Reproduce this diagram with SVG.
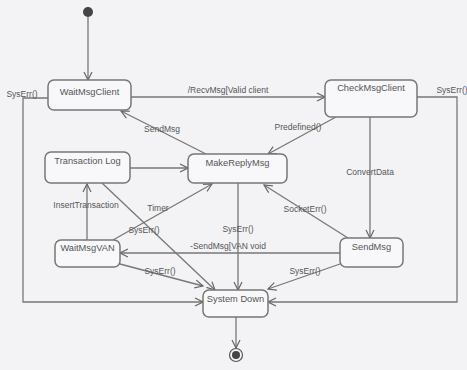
<svg xmlns="http://www.w3.org/2000/svg" width="467" height="370" viewBox="0 0 467 370">
<defs>
<marker id="arr" markerWidth="10" markerHeight="10" refX="9" refY="5" orient="auto" markerUnits="userSpaceOnUse">
<path d="M1,1 L9,5 L1,9" fill="none" stroke="#666" stroke-width="1.2"/>
</marker>
<style>
.st{fill:#f8f8fa;stroke:#777;stroke-width:1.5}
.t{font-family:"Liberation Sans",Arial,sans-serif;font-size:9.3px;fill:#555;text-anchor:middle}
.l{font-family:"Liberation Sans",Arial,sans-serif;font-size:8.5px;fill:#555;text-anchor:middle}
.c{fill:none;stroke:#777;stroke-width:1.3}
</style>
</defs>
<rect width="467" height="370" fill="#f3f3f5"/>
<g id="connectors">
<path class="c" d="M88,17 L88,80" marker-end="url(#arr)"/>
<path class="c" d="M131,97 L325,97" marker-end="url(#arr)"/>
<text class="l" x="228" y="93">/RecvMsg[Valid client</text>
<path class="c" d="M48,98 L23,98 L23,302 L203,302" marker-end="url(#arr)"/>
<text class="l" x="22" y="97">SysErr()</text>
<path class="c" d="M417,97 L457,97 L457,302 L268,302" marker-end="url(#arr)"/>
<text class="l" x="452" y="93">SysErr()</text>
<path class="c" d="M370,117 L370,238" marker-end="url(#arr)"/>
<text class="l" x="370" y="175">ConvertData</text>
<path class="c" d="M206,154 L121,111" marker-end="url(#arr)"/>
<text class="l" x="162" y="132">SendMsg</text>
<path class="c" d="M336,117 L268,154" marker-end="url(#arr)"/>
<text class="l" x="298" y="130">Predefined()</text>
<path class="c" d="M130,168 L188,168" marker-end="url(#arr)"/>
<path class="c" d="M87,240 L87,184" marker-end="url(#arr)"/>
<text class="l" x="86" y="208">InsertTransaction</text>
<path class="c" d="M113,240 L212,184" marker-end="url(#arr)"/>
<text class="l" x="158" y="211">Timer</text>
<path class="c" d="M102,183 L215,290" marker-end="url(#arr)"/>
<text class="l" x="144" y="233">SysErr()</text>
<path class="c" d="M238,183 L238,290" marker-end="url(#arr)"/>
<text class="l" x="238" y="232">SysErr()</text>
<path class="c" d="M340,253 L120,253" marker-end="url(#arr)"/>
<text class="l" x="228" y="249">-SendMsg[VAN void</text>
<path class="c" d="M348,238 L264,185" marker-end="url(#arr)"/>
<text class="l" x="305" y="212">SocketErr()</text>
<path class="c" d="M120,264 L203,286" marker-end="url(#arr)"/>
<text class="l" x="160" y="274">SysErr()</text>
<path class="c" d="M340,264 L268,289" marker-end="url(#arr)"/>
<text class="l" x="305" y="274">SysErr()</text>
<path class="c" d="M236,317 L236,348" marker-end="url(#arr)"/>
</g>
<g id="start"><circle cx="88" cy="12" r="5" fill="#444"/></g>
<g id="WaitMsgClient"><rect class="st" x="48" y="80" width="83" height="30" rx="6"/><text class="t" x="89.5" y="95">WaitMsgClient</text></g>
<g id="CheckMsgClient"><rect class="st" x="325" y="80" width="92" height="37" rx="6"/><text class="t" x="371" y="91">CheckMsgClient</text></g>
<g id="MakeReplyMsg"><rect class="st" x="188" y="154" width="99" height="29" rx="6"/><text class="t" x="237.5" y="166">MakeReplyMsg</text></g>
<g id="TransactionLog"><rect class="st" x="45" y="152" width="85" height="31" rx="6"/><text class="t" x="87.5" y="164">Transaction Log</text></g>
<g id="WaitMsgVAN"><rect class="st" x="55" y="240" width="65" height="27" rx="6"/><text class="t" x="87.5" y="251">WaitMsgVAN</text></g>
<g id="SendMsg"><rect class="st" x="340" y="238" width="63" height="29" rx="6"/><text class="t" x="371.5" y="250">SendMsg</text></g>
<g id="SystemDown"><rect class="st" x="203" y="290" width="65" height="27" rx="6"/><text class="t" x="235.5" y="302">System Down</text></g>
<g id="end"><circle cx="236" cy="355" r="6.5" fill="none" stroke="#555" stroke-width="1.2"/><circle cx="236" cy="355" r="4" fill="#444"/></g>
</svg>
